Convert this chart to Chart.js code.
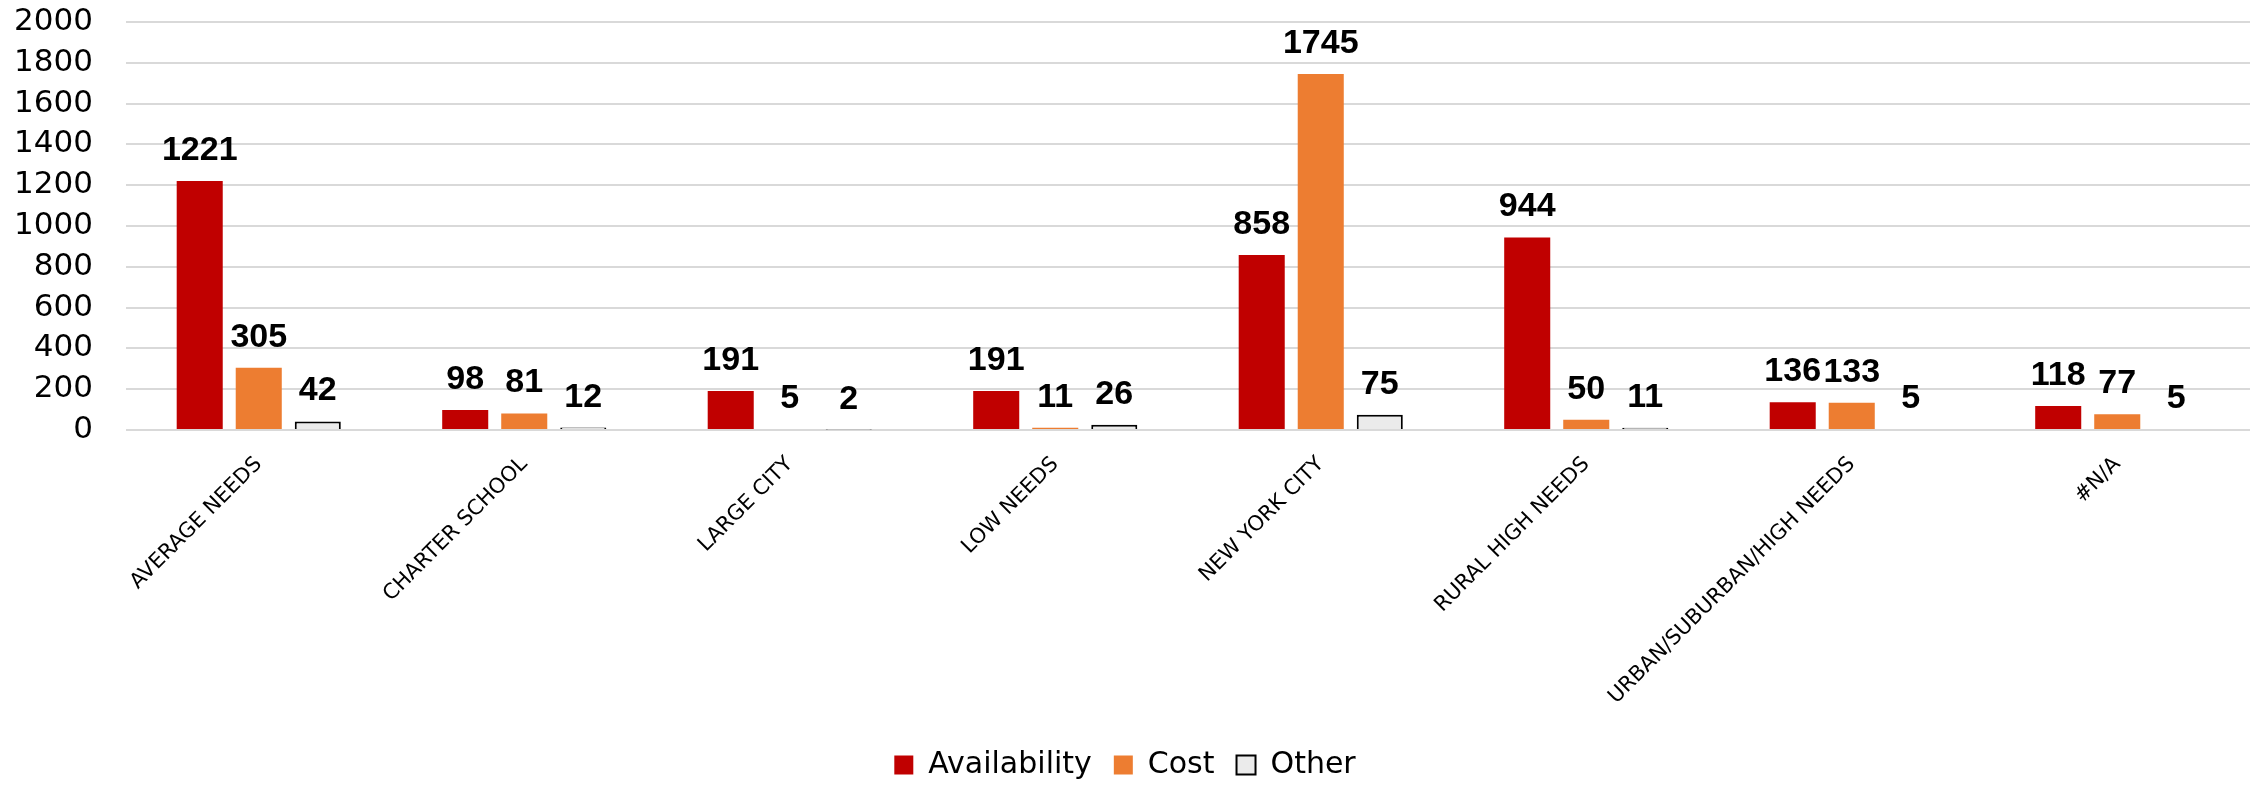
<!DOCTYPE html>
<html>
<head>
<meta charset="utf-8">
<script src="https://cdn.jsdelivr.net/npm/chart.js@4.4.1/dist/chart.umd.min.js"></script>
<style>
  html, body { margin: 0; padding: 0; background: #fff; }
  #wrap { width: 2267px; height: 790px; position: relative; }
</style>
</head>
<body>
<div id="wrap"><canvas id="chart"></canvas></div>
<script>
'use strict';

const categories = ['AVERAGE NEEDS', 'CHARTER SCHOOL', 'LARGE CITY', 'LOW NEEDS',
                    'NEW YORK CITY', 'RURAL HIGH NEEDS', 'URBAN/SUBURBAN/HIGH NEEDS', '#N/A'];
const availability = [1221, 98, 191, 191, 858, 944, 136, 118];
const cost         = [305, 81, 5, 11, 1745, 50, 133, 77];
const other        = [42, 12, 2, 26, 75, 11, 5, 5];
const yTicks       = [0, 200, 400, 600, 800, 1000, 1200, 1400, 1600, 1800, 2000];

const FONT = '"DejaVu Sans", sans-serif';
const LABEL_FONT = '"Liberation Sans", Arial, sans-serif';

// numbers above each bar, bold, like the office-chart data labels
const valueLabels = {
    id: 'valueLabels',
    afterDatasetsDraw(chart) {
        const ctx = chart.ctx;
        ctx.save();
        ctx.font = `bold 34px ${LABEL_FONT}`;
        ctx.fillStyle = '#000';
        ctx.textAlign = 'center';
        ctx.textBaseline = 'alphabetic';
        chart.data.datasets.forEach((ds, i) => {
            chart.getDatasetMeta(i).data.forEach((bar, j) => {
                ctx.fillText(String(ds.data[j]), bar.x, bar.y - 21);
            });
        });
        ctx.restore();
    }
};

new Chart(document.getElementById('chart').getContext('2d'), {
    type: 'bar',
    data: {
        labels: categories,
        datasets: [
            { label: 'Availability', data: availability, backgroundColor: '#C00000', borderWidth: 0 },
            { label: 'Cost',         data: cost,         backgroundColor: '#ED7D31', borderWidth: 0 },
            { label: 'Other',        data: other,        backgroundColor: '#EBEBEB',
              borderColor: '#000', borderWidth: 2 }
        ]
    },
    options: {
        animation: false,
        responsive: true,
        maintainAspectRatio: false,
        datasets: { bar: { categoryPercentage: 0.667, barPercentage: 0.78 } },
        layout: { autoPadding: false, padding: { left: 0, right: 17, top: 22, bottom: 0 } },
        plugins: {
            tooltip: { enabled: false },
            legend: {
                position: 'bottom',
                labels: {
                    color: '#000',
                    font: { family: FONT, size: 30, lineHeight: 1 },
                    boxWidth: 19, boxHeight: 19,
                    padding: 22
                }
            }
        },
        scales: {
            x: {
                grid: { display: false },
                border: { display: false },
                afterFit: (s) => { s.height = 298; s.paddingTop = 0; s.paddingBottom = 0; },
                ticks: {
                    color: '#000',
                    font: { family: FONT, size: 21 },
                    minRotation: 45, maxRotation: 45,
                    padding: 14, autoSkip: false
                }
            },
            y: {
                min: 0, max: 2000,
                afterBuildTicks: (s) => { s.ticks = yTicks.map(v => ({ value: v })); },
                afterFit: (s) => { s.width = 126; s.paddingTop = 0; s.paddingBottom = 0; },
                grid: { color: '#D9D9D9', lineWidth: 2, drawTicks: false },
                border: { display: false },
                ticks: {
                    color: '#000',
                    font: { family: FONT, size: 31 },
                    padding: 33,
                    autoSkip: false,
                    callback: (v) => String(v)
                }
            }
        }
    },
    plugins: [valueLabels]
});
</script>
</body>
</html>
